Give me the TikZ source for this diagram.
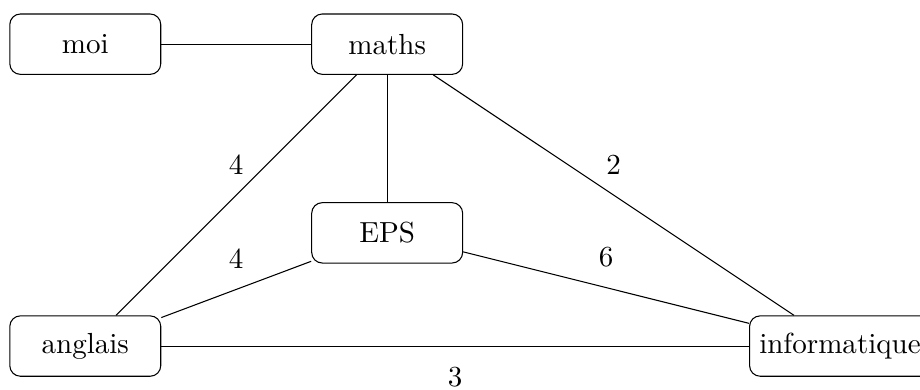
\documentclass[11pt,tikz,border=0pt]{standalone}
\usepackage{tikz}

\begin{document}
\begin{tikzpicture}
    \useasboundingbox (-1.13,0.585) rectangle (11.06,-4.57);
    \tikzset{VertexStyle/.style = {%
        shape= rectangle,
        rounded corners,
        minimum width = 2cm,
        minimum height = 0.8cm,draw}}
    \tikzset{LabelStyle/.style = {above=4pt}}
    \node[VertexStyle] (moi) at (0,0) {moi};
    \node[VertexStyle] (maths) at (4,0) {maths};
    \node[VertexStyle] (EPS) at (4,-2.5) {EPS};
    \node[VertexStyle] (anglais) at (0,-4) {anglais};
    \node[VertexStyle] (info) at (10,-4) {informatique};
    \draw (moi) -- (maths);
    \draw (maths) -- node[LabelStyle]{4} (anglais);
    \draw (maths) -- node[LabelStyle]{2} (info);
    \draw (maths) -- (EPS);
    \draw (anglais) -- node[LabelStyle]{4} (EPS);
    \draw (EPS) -- node[LabelStyle]{6} (info);
    \draw (anglais) -- node[below=4pt]{3} (info);
 \end{tikzpicture}
\end{document}
